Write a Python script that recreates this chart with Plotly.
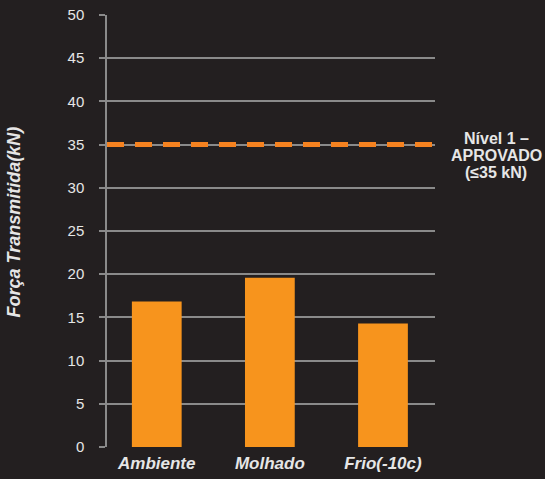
import plotly.graph_objects as go

categories = ["Ambiente", "Molhado", "Frio(-10c)"]
values = [16.85, 19.6, 14.3]
threshold = 35
y_ticks = [0, 5, 10, 15, 20, 25, 30, 35, 40, 45, 50]
threshold_label_lines = ["Nível 1 –", "APROVADO", "(≤35 kN)"]
y_title = "Força Transmitida(kN)"

BG = "#231f20"
GRID = "#8a8a8a"
BAR = "#f7941d"
LINE = "#f58220"
TXT = "#e6e6e6"
FONT = "Liberation Sans, Arial, sans-serif"

fig = go.Figure()
fig.add_trace(go.Bar(
    x=categories, y=values, marker=dict(color=BAR, line=dict(width=0)),
    width=0.44, hoverinfo="skip"))

fig.add_shape(type="line", xref="paper", x0=0, x1=1, yref="y", y0=threshold, y1=threshold,
              line=dict(color=LINE, width=5, dash="17px,11px"), layer="above")

shifts = [6, -11, -28]
for line_text, sh in zip(threshold_label_lines, shifts):
    fig.add_annotation(text="<b>" + line_text + "</b>", xref="paper", yref="y",
                       x=1.186, y=threshold, yshift=sh, xanchor="center", yanchor="middle",
                       showarrow=False, align="center",
                       font=dict(family=FONT, size=16, color=TXT))

fig.add_annotation(text="<b><i>" + y_title + "</i></b>", xref="paper", yref="paper",
                   x=-0.283, y=0.52, xanchor="center", yanchor="middle",
                   textangle=-90, showarrow=False,
                   font=dict(family=FONT, size=18, color=TXT))

fig.update_layout(
    width=545, height=479,
    margin=dict(l=107, r=110, t=15, b=32),
    paper_bgcolor=BG, plot_bgcolor=BG,
    showlegend=False,
    xaxis=dict(
        type="category", range=[-0.44, 2.46], automargin=False,
        showgrid=False, zeroline=False, showline=False, ticks="",
        tickvals=categories,
        ticktext=["<b><i>" + c + "</i></b>" for c in categories],
        tickfont=dict(family=FONT, size=17, color=TXT),
        ticklabelstandoff=4,
    ),
    yaxis=dict(
        range=[0, 50], tickvals=y_ticks, automargin=False,
        showgrid=True, gridcolor=GRID, gridwidth=1.5,
        zeroline=False,
        showline=True, linecolor=GRID, linewidth=1.5,
        ticks="outside", ticklen=6, tickcolor=GRID, tickwidth=1.5,
        tickfont=dict(family=FONT, size=15, color=TXT),
        ticklabelstandoff=12,
    ),
)

fig.write_html("out.html")
